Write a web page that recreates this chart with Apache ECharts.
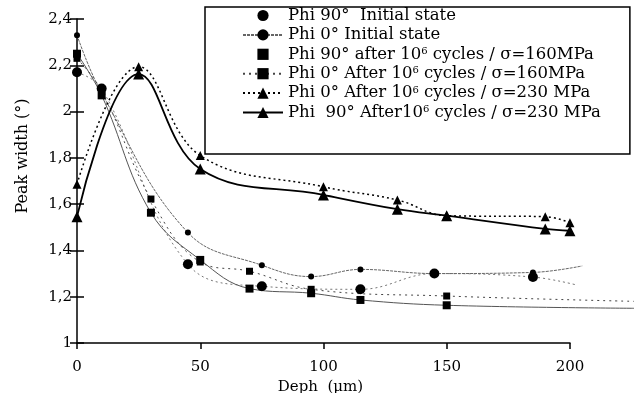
<!DOCTYPE html>
<html>
<head>
<meta charset="utf-8">
<script src="https://cdn.jsdelivr.net/npm/echarts@6/dist/echarts.min.js"></script>
<style>
  html, body { margin: 0; padding: 0; background: #fff; }
  #chart { width: 634px; height: 393px; }
</style>
</head>
<body>
<div id="chart"></div>
<script>
// values (depth in µm, peak width in °)
const phi90InitDepth = [0, 10, 45, 75, 115, 145, 185, 203];
const phi90InitWidth = [2.17, 2.10, 1.34, 1.245, 1.232, 1.30, 1.285, 1.25];

const phi0InitDepth = [0, 10, 45, 75, 95, 115, 145, 185, 205];
const phi0InitWidth = [2.33, 2.08, 1.477, 1.336, 1.287, 1.318, 1.30, 1.305, 1.333];

const phi90c160Depth = [0, 10, 30, 50, 70, 95, 115, 150, 226];
const phi90c160Width = [2.25, 2.07, 1.563, 1.359, 1.235, 1.215, 1.186, 1.163, 1.15];

const phi0c160Depth = [0, 10, 30, 50, 70, 95, 150, 226];
const phi0c160Width = [2.23, 2.09, 1.622, 1.35, 1.31, 1.232, 1.203, 1.18];

const phi0c230Depth = [0, 25, 50, 100, 130, 150, 190, 200];
const phi0c230Width = [1.686, 2.194, 1.81, 1.675, 1.618, 1.55, 1.546, 1.52];

const phi90c230Depth = [0, 25, 50, 100, 130, 150, 190, 200];
const phi90c230Width = [1.546, 2.162, 1.752, 1.64, 1.578, 1.55, 1.493, 1.485];

const seriesNames = [
  'Phi 90°  Initial state',
  'Phi 0° Initial state',
  'Phi 90° after 10{sup|6} cycles / σ=160MPa',
  'Phi 0° After 10{sup|6} cycles / σ=160MPa',
  'Phi 0° After 10{sup|6} cycles / σ=230 MPa',
  'Phi  90° After10{sup|6} cycles / σ=230 MPa'
];

const font = 'DejaVu Serif';

// curve tails past 200 µm have no marker
function pts(depth, width) {
  return depth.map((d, i) => d > 200
    ? { value: [d, width[i]], symbol: 'none' }
    : [d, width[i]]);
}

function yLabel(v) {
  const r = Math.round(v * 10) / 10;
  return Number.isInteger(r) ? String(r) : r.toFixed(1).replace('.', ',');
}

const chart = echarts.init(document.getElementById('chart'));

// grid 0 holds the curves (runs to the right edge so the tails past 200 show),
// grid 1 carries the visible axes that stop at 200; both share top/height
const lineBase = { type: 'line', smooth: 0.4, clip: false, xAxisIndex: 0, yAxisIndex: 2 };

const option = {
  animation: false,
  backgroundColor: '#fff',
  textStyle: { fontFamily: font, color: '#000' },
  grid: [
    { left: 77, top: 19, width: 557, height: 324, containLabel: false, outerBoundsMode: 'none' },
    { left: 77, top: 19, width: 493, height: 324, containLabel: false, outerBoundsMode: 'none' }
  ],
  legend: {
    orient: 'vertical',
    left: 205,
    top: 7,
    padding: [0, 29, 33, 37],
    itemWidth: 40,
    itemHeight: 14,
    itemGap: 2.4,
    borderColor: '#000',
    borderWidth: 1.5,
    textStyle: {
      fontFamily: font, fontSize: 16.5, lineHeight: 16, color: '#000',
      rich: { sup: { fontFamily: font, fontSize: 10, lineHeight: 16, verticalAlign: 'top', padding: [0, 0, 6, 0] } }
    },
    data: [
      { name: seriesNames[0], lineStyle: { opacity: 0 } },
      { name: seriesNames[1] },
      { name: seriesNames[2], lineStyle: { opacity: 0 } },
      { name: seriesNames[3] },
      { name: seriesNames[4] },
      { name: seriesNames[5] }
    ]
  },
  xAxis: [
    {
      gridIndex: 0,
      type: 'value',
      min: 0,
      max: 226,
      show: false
    },
    {
      gridIndex: 1,
      type: 'value',
      min: 0,
      max: 200,
      interval: 50,
      name: 'Deph  (µm)',
      nameLocation: 'middle',
      nameGap: 35,
      nameTextStyle: { fontFamily: font, fontSize: 15, color: '#000', padding: [0, 6, 0, 0] },
      splitLine: { show: false },
      axisLine: { lineStyle: { color: '#000', width: 1.5 } },
      axisTick: { length: 6, lineStyle: { color: '#000', width: 1.5 } },
      axisLabel: { fontFamily: font, fontSize: 15, color: '#000', margin: 17 }
    }
  ],
  yAxis: [
    {
      gridIndex: 1,
      type: 'value',
      min: 1,
      max: 2.4,
      interval: 0.2,
      name: 'Peak width (°)',
      nameLocation: 'middle',
      nameGap: 46,
      nameTextStyle: { fontFamily: font, fontSize: 16, color: '#000', padding: [0, 0, 0, 50] },
      splitLine: { show: false },
      axisLine: { lineStyle: { color: '#000', width: 1.5 } },
      axisTick: { length: 7, lineStyle: { color: '#000', width: 1.5 } },
      axisLabel: { fontFamily: font, fontSize: 15, color: '#000', margin: 5, formatter: yLabel }
    },
    {
      gridIndex: 1,
      type: 'value',
      min: 1,
      max: 2.4,
      interval: 0.2,
      position: 'left',
      splitLine: { show: false },
      axisLine: { show: false },
      axisTick: { inside: true, length: 7, lineStyle: { color: '#000', width: 1.5 } },
      axisLabel: { show: false }
    },
    {
      gridIndex: 0,
      type: 'value',
      min: 1,
      max: 2.4,
      interval: 0.2,
      show: false
    }
  ],
  series: [
    {
      ...lineBase,
      name: seriesNames[0],
      symbol: 'circle',
      symbolSize: 10,
      itemStyle: { color: '#000' },
      lineStyle: { color: '#777', width: 1, type: [2, 3] },
      data: pts(phi90InitDepth, phi90InitWidth)
    },
    {
      ...lineBase,
      name: seriesNames[1],
      symbol: 'circle',
      symbolSize: 6,
      itemStyle: { color: '#000' },
      lineStyle: { color: '#666', width: 1, type: [3, 1] },
      data: pts(phi0InitDepth, phi0InitWidth)
    },
    {
      ...lineBase,
      name: seriesNames[2],
      symbol: 'rect',
      symbolSize: 8,
      itemStyle: { color: '#000' },
      lineStyle: { color: '#555', width: 1 },
      data: pts(phi90c160Depth, phi90c160Width)
    },
    {
      ...lineBase,
      name: seriesNames[3],
      symbol: 'rect',
      symbolSize: 7,
      itemStyle: { color: '#000' },
      lineStyle: { color: '#444', width: 1, type: [2, 4] },
      data: pts(phi0c160Depth, phi0c160Width)
    },
    {
      ...lineBase,
      name: seriesNames[4],
      symbol: 'triangle',
      symbolSize: 9,
      itemStyle: { color: '#000' },
      lineStyle: { color: '#000', width: 1.5, type: [2, 3] },
      data: pts(phi0c230Depth, phi0c230Width)
    },
    {
      ...lineBase,
      name: seriesNames[5],
      symbol: 'triangle',
      symbolSize: 11,
      itemStyle: { color: '#000' },
      lineStyle: { color: '#000', width: 1.8 },
      data: pts(phi90c230Depth, phi90c230Width)
    }
  ]
};

chart.setOption(option);
</script>
</body>
</html>
